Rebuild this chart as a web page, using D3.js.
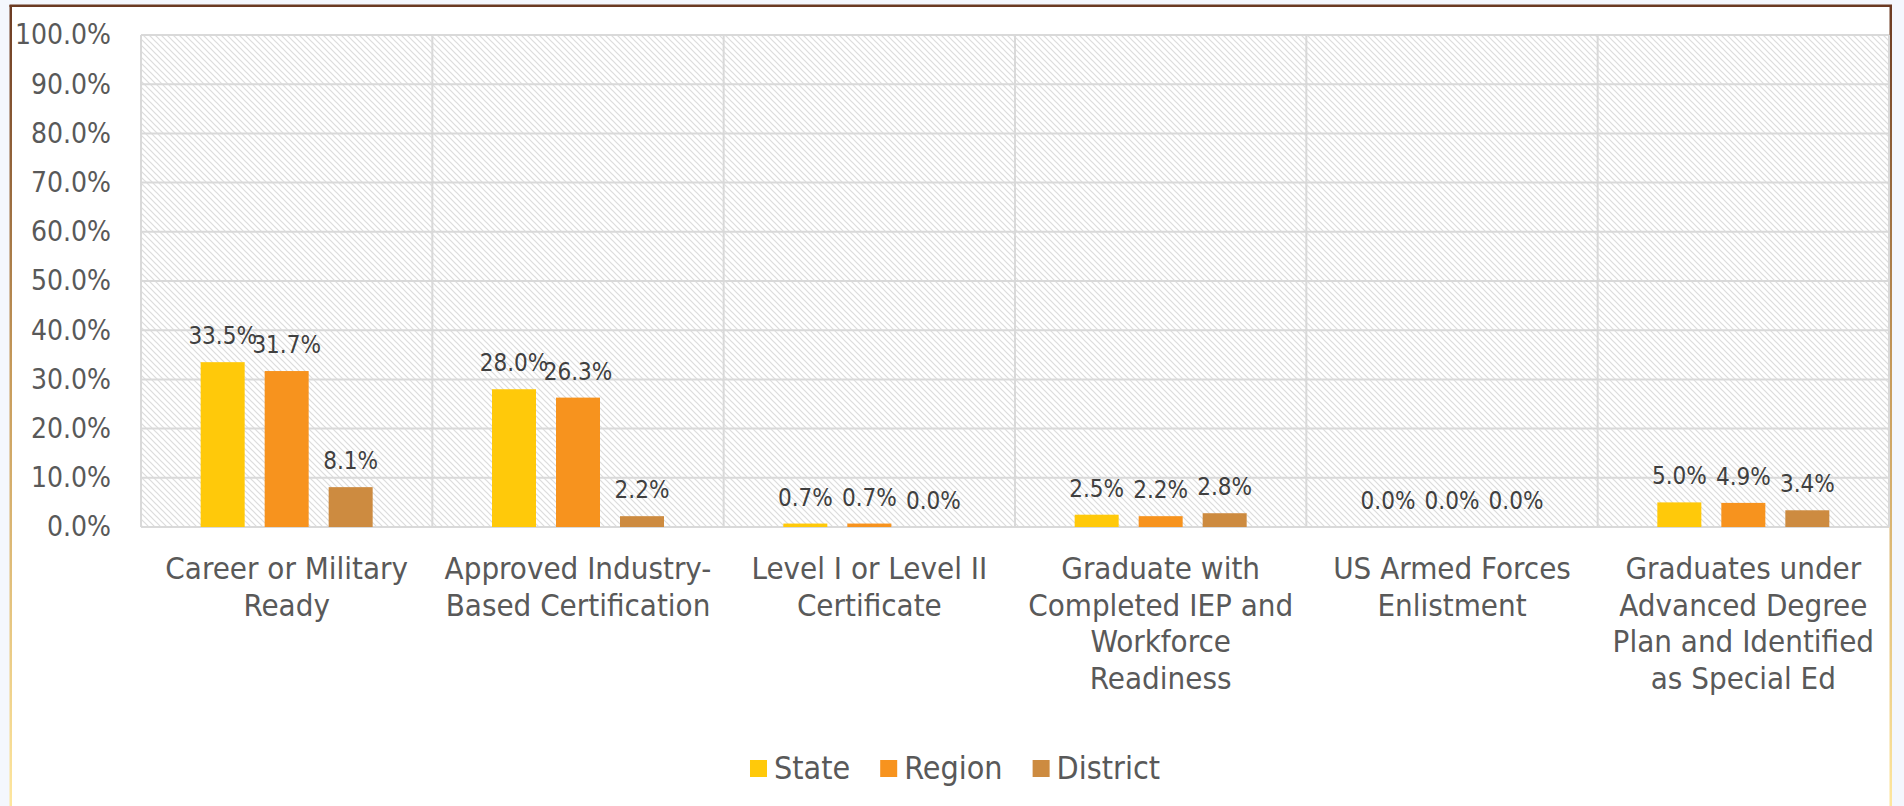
<!DOCTYPE html>
<html>
<head>
<meta charset="utf-8">
<script src="https://cdn.jsdelivr.net/npm/d3@7"></script>
<style>
  html, body { margin: 0; padding: 0; background: #f4f7fd; }
  svg { display: block; }
</style>
</head>
<body>
<div id="chart"></div>
<script>
// Chart values
var categories = [
  'Career or Military Ready',
  'Approved Industry-Based Certification',
  'Level I or Level II Certificate',
  'Graduate with Completed IEP and Workforce Readiness',
  'US Armed Forces Enlistment',
  'Graduates under Advanced Degree Plan and Identified as Special Ed'
];
var categoryLines = [
  ['Career or Military', 'Ready'],
  ['Approved Industry-', 'Based Certification'],
  ['Level I or Level II', 'Certificate'],
  ['Graduate with', 'Completed IEP and', 'Workforce', 'Readiness'],
  ['US Armed Forces', 'Enlistment'],
  ['Graduates under', 'Advanced Degree', 'Plan and Identified', 'as Special Ed']
];
var seriesNames = ['State', 'Region', 'District'];
var stateValues = [33.5, 28.0, 0.7, 2.5, 0.0, 5.0];
var regionValues = [31.7, 26.3, 0.7, 2.2, 0.0, 4.9];
var districtValues = [8.1, 2.2, 0.0, 2.8, 0.0, 3.4];
var seriesColors = ['#ffc90a', '#f7931e', '#cd8b40'];
var yTicks = [0, 10, 20, 30, 40, 50, 60, 70, 80, 90, 100];

var seriesValues = [stateValues, regionValues, districtValues];

var width = 1904, height = 806;
var plot = { left: 141, right: 1889, top: 35, bottom: 527 };
var textColor = '#595959';
var axisFont = '"DejaVu Sans Condensed", "DejaVu Sans", sans-serif';

var svg = d3.select('#chart')
  .append('svg')
  .attr('width', width)
  .attr('height', height);

var defs = svg.append('defs');

// downward diagonal hatch for the plot area
var hatch = defs.append('pattern')
  .attr('id', 'hatch')
  .attr('patternUnits', 'userSpaceOnUse')
  .attr('width', 6)
  .attr('height', 6);
hatch.append('rect').attr('width', 6).attr('height', 6).attr('fill', '#ffffff');
hatch.append('path')
  .attr('d', 'M-1,-1 L7,7 M-1,5 L1,7 M5,-1 L7,1')
  .attr('stroke', '#dcdcdc')
  .attr('stroke-width', 1.2);

// frame border fades from brown to gold
var grad = defs.append('linearGradient')
  .attr('id', 'frameGrad')
  .attr('x1', 0).attr('y1', 0).attr('x2', 0).attr('y2', 1);
grad.append('stop').attr('offset', '0%').attr('stop-color', '#6b3a22');
grad.append('stop').attr('offset', '45%').attr('stop-color', '#c69a5a');
grad.append('stop').attr('offset', '100%').attr('stop-color', '#ffe8a0');

// Frame
svg.append('rect')
  .attr('x', 10).attr('y', 5)
  .attr('width', 1881).attr('height', 820)
  .attr('fill', '#ffffff');
svg.append('rect')
  .attr('x', 9.5).attr('y', 5)
  .attr('width', 2.5).attr('height', 810)
  .attr('fill', 'url(#frameGrad)');
svg.append('rect')
  .attr('x', 1889.5).attr('y', 5)
  .attr('width', 2.5).attr('height', 810)
  .attr('fill', 'url(#frameGrad)');
svg.append('rect')
  .attr('x', 9.5).attr('y', 4.5)
  .attr('width', 1882.5).attr('height', 2.5)
  .attr('fill', '#6b3a22');

// Scales
var x0 = d3.scaleBand()
  .domain(categories)
  .range([plot.left, plot.right])
  .paddingInner(0)
  .paddingOuter(0);

var groupWidth = 172;
var x1 = d3.scaleBand()
  .domain(seriesNames)
  .range([(x0.bandwidth() - groupWidth) / 2, (x0.bandwidth() + groupWidth) / 2])
  .paddingInner(0.3125);

var y = d3.scaleLinear()
  .domain([0, 100])
  .range([plot.bottom, plot.top]);

// Plot background
svg.append('rect')
  .attr('x', plot.left).attr('y', plot.top)
  .attr('width', plot.right - plot.left)
  .attr('height', plot.bottom - plot.top)
  .attr('fill', 'url(#hatch)');

// Horizontal gridlines
svg.append('g')
  .selectAll('line')
  .data(yTicks)
  .enter()
  .append('line')
  .attr('x1', plot.left)
  .attr('x2', plot.right)
  .attr('y1', function (d) { return y(d); })
  .attr('y2', function (d) { return y(d); })
  .attr('stroke', '#d9d9d9')
  .attr('stroke-width', 2);

// Vertical category dividers
var dividers = categories.map(function (c) { return x0(c); }).concat([plot.right]);
svg.append('g')
  .selectAll('line')
  .data(dividers)
  .enter()
  .append('line')
  .attr('x1', function (d) { return d; })
  .attr('x2', function (d) { return d; })
  .attr('y1', plot.top)
  .attr('y2', plot.bottom)
  .attr('stroke', '#d9d9d9')
  .attr('stroke-width', 2);

// Y axis labels
var yAxis = d3.axisLeft(y)
  .tickValues(yTicks)
  .tickSize(0)
  .tickPadding(0)
  .tickFormat(function (d) { return d.toFixed(1) + '%'; });

var yAxisG = svg.append('g')
  .attr('transform', 'translate(111,0)')
  .call(yAxis);
yAxisG.select('.domain').remove();
yAxisG.selectAll('text')
  .attr('fill', textColor)
  .style('font-family', axisFont)
  .style('font-size', '28px');

// Bars
var rows = [];
categories.forEach(function (c, i) {
  seriesNames.forEach(function (s, j) {
    rows.push({ cat: c, series: s, value: seriesValues[j][i], color: seriesColors[j] });
  });
});

svg.append('g')
  .selectAll('rect')
  .data(rows)
  .enter()
  .append('rect')
  .attr('x', function (d) { return x0(d.cat) + x1(d.series); })
  .attr('y', function (d) { return y(d.value); })
  .attr('width', x1.bandwidth())
  .attr('height', function (d) { return y(0) - y(d.value); })
  .attr('fill', function (d) { return d.color; });

// Data labels
svg.append('g')
  .selectAll('text')
  .data(rows)
  .enter()
  .append('text')
  .attr('x', function (d) { return x0(d.cat) + x1(d.series) + x1.bandwidth() / 2; })
  .attr('y', function (d) { return y(d.value) - 18; })
  .attr('text-anchor', 'middle')
  .attr('fill', '#404040')
  .style('font-family', axisFont)
  .style('font-size', '24px')
  .text(function (d) { return d.value.toFixed(1) + '%'; });

// Category labels
var catG = svg.append('g')
  .selectAll('text')
  .data(categories)
  .enter()
  .append('text')
  .attr('x', function (d) { return x0(d) + x0.bandwidth() / 2; })
  .attr('y', 579)
  .attr('text-anchor', 'middle')
  .attr('fill', textColor)
  .style('font-family', axisFont)
  .style('font-size', '31px');

catG.selectAll('tspan')
  .data(function (d, i) { return categoryLines[i]; })
  .enter()
  .append('tspan')
  .attr('x', function () { return d3.select(this.parentNode).attr('x'); })
  .attr('dy', function (d, i) { return i === 0 ? 0 : 36.7; })
  .text(function (d) { return d; });

// Legend
var legend = svg.append('g');
var items = legend.selectAll('g')
  .data(seriesNames)
  .enter()
  .append('g');
items.append('rect')
  .attr('width', 17)
  .attr('height', 17)
  .attr('y', 760)
  .attr('fill', function (d, i) { return seriesColors[i]; });
items.append('text')
  .attr('x', 24)
  .attr('y', 779)
  .attr('fill', textColor)
  .style('font-family', axisFont)
  .style('font-size', '32px')
  .text(function (d) { return d; });

var offset = 0;
var itemGap = 30;
items.each(function () {
  var g = d3.select(this);
  var w = 24 + g.select('text').node().getComputedTextLength();
  g.attr('transform', 'translate(' + offset + ',0)');
  offset += w + itemGap;
});
var legendWidth = offset - itemGap;
legend.attr('transform', 'translate(' + (955 - legendWidth / 2) + ',0)');
</script>
</body>
</html>
